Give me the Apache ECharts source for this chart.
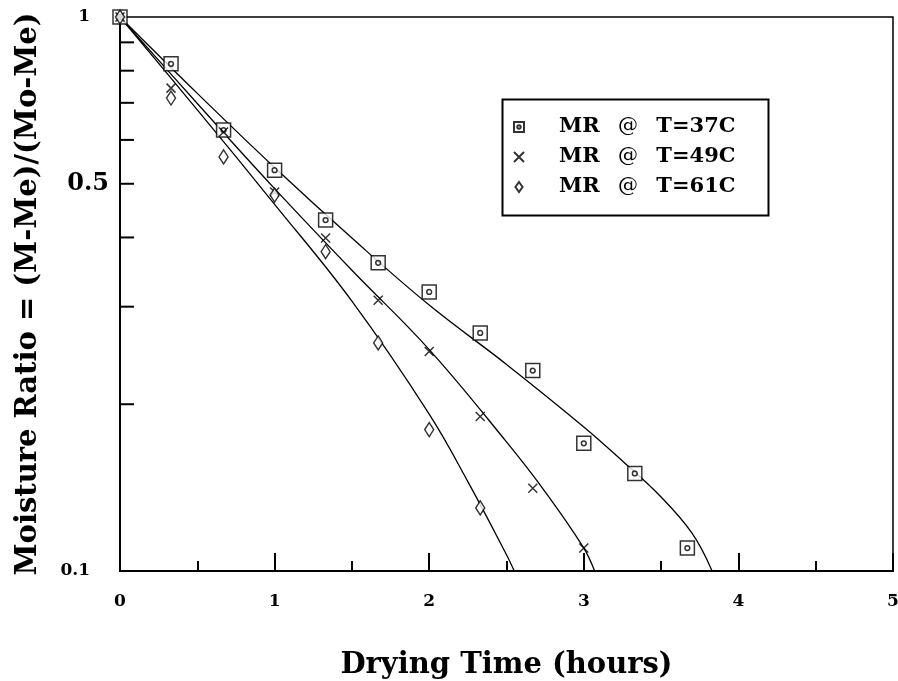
<!DOCTYPE html>
<html>
<head>
<meta charset="utf-8">
<title>Moisture ratio vs drying time</title>
<script src="https://cdn.jsdelivr.net/npm/echarts@6.0.0/dist/echarts.min.js"></script>
<style>
  html, body { margin: 0; padding: 0; background: #fff; }
  #chart { width: 898px; height: 681px; }
</style>
</head>
<body>
<div id="chart"></div>
<script>
  // measured points, drying time (hours) / moisture ratio
  var time37 = [0, 0.33, 0.67, 1, 1.33, 1.67, 2, 2.33, 2.67, 3, 3.33, 3.67];
  var mr37 = [1, 0.823, 0.625, 0.529, 0.430, 0.360, 0.319, 0.269, 0.230, 0.170, 0.150, 0.110];
  var time49 = [0, 0.33, 0.67, 1, 1.33, 1.67, 2, 2.33, 2.67, 3];
  var mr49 = [1, 0.744, 0.620, 0.483, 0.399, 0.308, 0.249, 0.190, 0.141, 0.110];
  var time61 = [0, 0.33, 0.67, 1, 1.33, 1.67, 2, 2.33];
  var mr61 = [1, 0.714, 0.559, 0.477, 0.377, 0.258, 0.180, 0.130];

  // fitted curves
  var fitTime37 = [0, 0.5, 1, 1.5, 2, 2.5, 3, 3.25, 3.5, 3.7, 3.83];
  var fitMr37 = [1, 0.728, 0.535, 0.399, 0.302, 0.236, 0.182, 0.158, 0.136, 0.117, 0.1];
  var fitTime49 = [0, 0.5, 1, 1.5, 2, 2.5, 2.75, 3, 3.07];
  var fitMr49 = [1, 0.698, 0.490, 0.349, 0.251, 0.171, 0.139, 0.110, 0.1];
  var fitTime61 = [0, 0.5, 1, 1.5, 2, 2.25, 2.5, 2.55];
  var fitMr61 = [1, 0.680, 0.459, 0.307, 0.192, 0.145, 0.107, 0.1];

  var seriesNames = ['MR @ T=37C', 'MR @ T=49C', 'MR @ T=61C'];
  var yTicks = [0.2, 0.3, 0.4, 0.5, 0.6, 0.7, 0.8, 0.9];
  var yExtraLabels = [0.5];

  var font = "'DejaVu Serif', serif";

  function pairs(xs, ys) {
    return xs.map(function (x, i) { return [x, ys[i]]; });
  }

  var squareDot = 'path://M0,0H14V14H0ZM7,4.6A2.4,2.4,0,1,1,6.99,4.6Z';
  var cross = 'path://M0,0L10,10M10,0L0,10';
  var diamond = 'path://M5,0L10,7L5,14L0,7Z';

  function fitLine(name, xs, ys) {
    return {
      name: name,
      type: 'line',
      data: pairs(xs, ys),
      symbol: 'none',
      smooth: 0.4,
      lineStyle: { color: '#000', width: 1.3 },
      z: 2
    };
  }

  function points(name, xs, ys, symbol, size) {
    return {
      name: name,
      type: 'scatter',
      data: pairs(xs, ys),
      symbol: symbol,
      symbolSize: size,
      itemStyle: { color: '#fff', borderColor: '#000', borderWidth: 1.5 },
      z: 3
    };
  }

  var myChart = echarts.init(document.getElementById('chart'));

  var option = {
    animation: false,
    grid: {
      left: 120,
      right: 5,
      top: 17,
      bottom: 110,
      outerBoundsMode: 'none',
      show: true,
      borderColor: '#000',
      borderWidth: 1.5
    },
    graphic: [{
      type: 'rect',
      left: 500,
      top: 97,
      shape: { width: 266, height: 116 },
      style: { fill: 'none', stroke: '#000', lineWidth: 2 },
      z: 10
    }],
    legend: {
      data: seriesNames,
      orient: 'vertical',
      left: 513,
      top: 116,
      padding: 0,
      itemWidth: 70,
      itemHeight: 10,
      itemGap: 8,
      formatter: function (name) { return name.replace('@', '{at|@}'); },
      textStyle: {
        fontFamily: font,
        fontWeight: 'bold',
        fontSize: 21,
        lineHeight: 22,
        color: '#000',
        rich: {
          at: { fontFamily: font, fontWeight: 'normal', fontSize: 20, lineHeight: 22, color: '#000', padding: [0, 11, 0, 11] }
        }
      }
    },
    xAxis: {
      type: 'value',
      min: 0,
      max: 5,
      interval: 1,
      name: 'Drying Time (hours)',
      nameLocation: 'middle',
      nameGap: 80,
      nameTextStyle: { fontFamily: font, fontWeight: 'bold', fontSize: 29, color: '#000' },
      axisLine: { onZero: false, lineStyle: { color: '#000', width: 2 } },
      axisTick: { inside: true, length: 18, lineStyle: { color: '#000', width: 2 } },
      minorTick: { show: true, splitNumber: 2, length: 10, lineStyle: { color: '#000', width: 2 } },
      axisLabel: { fontFamily: font, fontWeight: 'bold', fontSize: 17, color: '#000', margin: 22 },
      splitLine: { show: false }
    },
    yAxis: {
      type: 'log',
      logBase: 10,
      min: 0.1,
      max: 1,
      name: 'Moisture Ratio = (M-Me)/(Mo-Me)',
      nameLocation: 'middle',
      nameGap: 77,
      nameTextStyle: { fontFamily: font, fontWeight: 'bold', fontSize: 29, color: '#000' },
      axisLine: { lineStyle: { color: '#000', width: 2 } },
      axisTick: { show: false },
      axisLabel: { fontFamily: font, fontWeight: 'bold', fontSize: 17, color: '#000', margin: 30 },
      splitLine: { show: false }
    },
    series: [
      fitLine('fit37', fitTime37, fitMr37),
      fitLine('fit49', fitTime49, fitMr49),
      fitLine('fit61', fitTime61, fitMr61),
      points(seriesNames[0], time37, mr37, squareDot, [14, 14]),
      points(seriesNames[1], time49, mr49, cross, [9, 9]),
      points(seriesNames[2], time61, mr61, diamond, [9, 14]),
      {
        // minor ticks of the log axis
        name: 'yTicks',
        type: 'custom',
        data: yTicks.map(function (v) { return [0, v]; }),
        renderItem: function (params, api) {
          var p = api.coord([0, api.value(1)]);
          return {
            type: 'line',
            shape: { x1: p[0], y1: p[1], x2: p[0] + 14, y2: p[1] },
            style: { stroke: '#000', lineWidth: 2 }
          };
        },
        z: 4
      },
      {
        name: 'yLabels',
        type: 'custom',
        data: yExtraLabels.map(function (v) { return [0, v]; }),
        renderItem: function (params, api) {
          var v = api.value(1);
          var p = api.coord([0, v]);
          return {
            type: 'text',
            x: p[0] - 11,
            y: p[1],
            style: {
              text: String(v),
              fontFamily: font,
              fontWeight: 'bold',
              fontSize: 24,
              fill: '#000',
              align: 'right',
              verticalAlign: 'middle'
            }
          };
        },
        clip: false,
        z: 4
      }
    ]
  };

  myChart.setOption(option);
</script>
</body>
</html>
